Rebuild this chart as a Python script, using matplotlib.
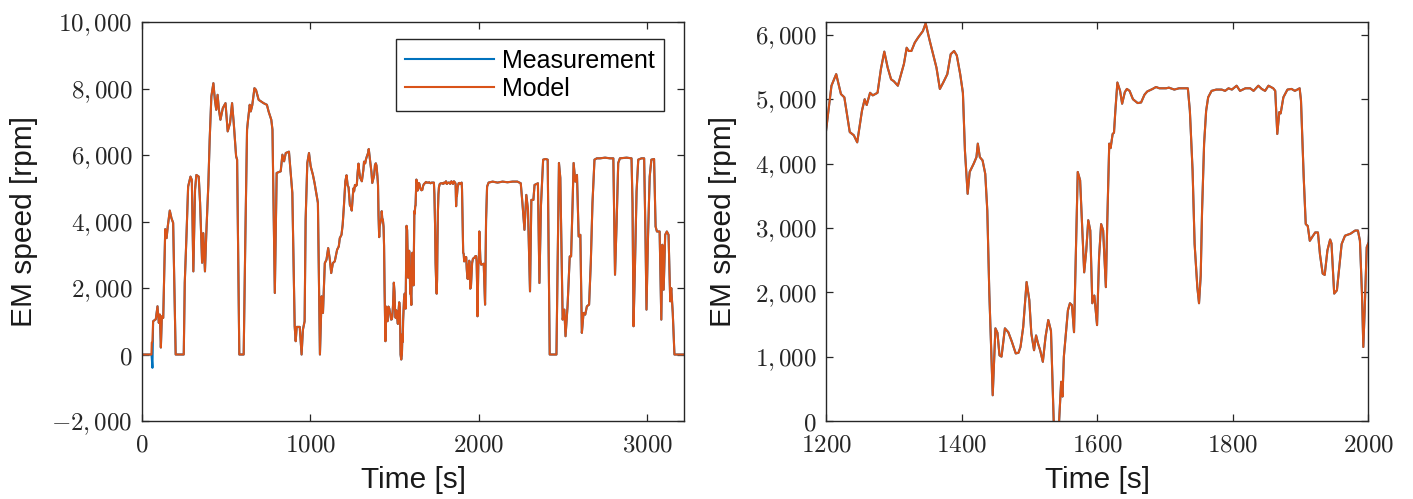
import matplotlib
matplotlib.use("Agg")
import matplotlib.pyplot as plt
from matplotlib.ticker import FixedLocator, FixedFormatter

# ---------------- data ----------------
time_s = [
    0, 56, 58, 62, 66, 82, 92, 100, 106, 112, 118, 126, 138, 146, 153, 165, 175, 185, 200, 248,
    254, 264, 274, 288, 296, 305, 315, 323, 337, 345, 357, 364, 374, 382, 394, 402, 412, 424, 433, 441,
    449, 457, 466, 480, 496, 509, 523, 535, 545, 559, 565, 578, 604, 614, 624, 630, 640, 646, 655, 668,
    677, 693, 722, 742, 752, 768, 775, 789, 800, 824, 834, 844, 854, 873, 893, 907, 913, 919, 937, 948,
    956, 966, 972, 982, 992, 1002, 1015, 1025, 1035, 1045, 1057, 1067, 1075, 1086, 1096, 1106, 1116, 1124, 1134, 1145,
    1159, 1169, 1175, 1185, 1192,
    1200, 1208, 1215, 1222, 1227, 1235, 1241, 1246, 1253, 1257, 1260, 1265, 1269, 1276, 1281, 1286, 1291, 1296, 1300, 1306,
    1310, 1315, 1319, 1322, 1326, 1331, 1336, 1343, 1347, 1353, 1358, 1363, 1368, 1373, 1379, 1384, 1389, 1393, 1398, 1402,
    1405, 1409, 1412, 1418, 1422, 1424, 1427, 1431, 1435, 1438, 1441, 1444, 1446, 1450, 1453, 1456, 1459, 1464, 1469, 1474,
    1480, 1484, 1487, 1491, 1496, 1500, 1503, 1507, 1510, 1513, 1516, 1520, 1524, 1528, 1532, 1536, 1540, 1544, 1547, 1549,
    1551, 1557, 1560, 1563, 1566, 1569, 1571.5, 1575, 1578, 1581, 1584, 1587, 1590, 1593, 1596, 1600, 1603, 1606, 1609, 1613,
    1615, 1618, 1620, 1623, 1625, 1627, 1630, 1634, 1637, 1641, 1644, 1648, 1653, 1660, 1665, 1670, 1674, 1682, 1687, 1692,
    1702, 1706, 1714, 1721, 1734, 1737, 1741, 1744, 1748, 1750.5, 1753, 1755, 1758, 1761, 1764, 1769, 1776, 1784, 1789, 1794,
    1799, 1806, 1811, 1819, 1826, 1831, 1838, 1843, 1848, 1853, 1860, 1863, 1866, 1869, 1871, 1875, 1881, 1887, 1892, 1899,
    1901, 1905, 1908, 1911, 1914, 1917, 1922, 1926, 1929, 1933, 1936, 1940, 1944, 1946, 1950, 1954, 1958, 1961, 1966, 1974,
    1981, 1985, 1988, 1991, 1993, 1995, 1998, 2001, 2004,
    2010, 2015, 2030, 2038, 2044, 2050, 2059, 2083, 2112, 2142, 2171, 2201, 2230, 2250, 2260, 2272, 2283, 2293, 2305, 2313,
    2325, 2332, 2352, 2361, 2370, 2383, 2397, 2410, 2422, 2462, 2470, 2477, 2485, 2499, 2509, 2516, 2528, 2541, 2549, 2558,
    2564, 2574, 2584, 2594, 2604, 2613, 2623, 2633, 2643, 2656, 2666, 2676, 2688, 2702, 2721, 2751, 2780, 2800, 2804, 2810,
    2820, 2829, 2839, 2879, 2908, 2914, 2920, 2928, 2938, 2948, 2967, 2983, 2991, 2997, 3006, 3016, 3026, 3042, 3051, 3059,
    3075, 3085, 3091, 3099, 3108, 3118, 3128, 3138, 3144, 3153, 3163, 3220,
]

measured_rpm = [
    0, 0, -100, -400, 1000, 1060, 1450, 950, 1200, 210, 1150, 1100, 3770, 3500, 3850, 4330, 4100, 3960, 0, 0,
    2160, 3550, 5050, 5350, 5250, 2500, 4950, 5400, 5350, 4560, 2760, 3650, 2500, 3650, 5100, 6460, 7760, 8160, 7660, 7360,
    7810, 7360, 7060, 7410, 7560, 6710, 6960, 7560, 6960, 5960, 5860, 0, 0, 3550, 6760, 7060, 7510, 7310, 7500, 8010,
    7960, 7660, 7560, 7510, 7310, 7060, 6760, 1850, 5460, 5510, 6010, 5810, 6060, 6100, 4860, 850, 400, 830, 830, 0,
    750, 1000, 4050, 5760, 6060, 5660, 5410, 5160, 4860, 4560, 0, 1750, 1250, 2750, 2850, 3200, 2850, 2450, 2750, 2800,
    3150, 3250, 3500, 3600, 3900,
    4510, 5210, 5390, 5080, 5030, 4490, 4440, 4330, 4820, 5000, 4910, 5100, 5060, 5100, 5470, 5740, 5490, 5310, 5280, 5210,
    5360, 5550, 5800, 5750, 5750, 5880, 5960, 6060, 6180, 5910, 5700, 5490, 5160, 5260, 5390, 5700, 5750, 5680, 5390, 5100,
    4200, 3530, 3870, 4000, 4100, 4310, 4100, 4050, 3840, 3270, 1980, 1000, 400, 1440, 1370, 1020, 1000, 1440, 1380, 1240,
    1050, 1060, 1150, 1460, 2160, 1880, 1360, 1100, 1330, 1200, 1100, 920, 1310, 1570, 1400, 0, -150, 0, 610, 380,
    1000, 1720, 1830, 1800, 1380, 2750, 3870, 3740, 3010, 2310, 2640, 3120, 2960, 1830, 1950, 1490, 2550, 3060, 2960, 2080,
    3060, 4310, 4240, 4460, 4480, 4820, 5260, 5130, 4930, 5110, 5160, 5130, 5000, 4940, 4950, 5070, 5120, 5160, 5190, 5170,
    5170, 5180, 5150, 5170, 5170, 4820, 3890, 2750, 2080, 1830, 2260, 3270, 4310, 4820, 5030, 5130, 5150, 5150, 5130, 5170,
    5150, 5210, 5130, 5170, 5170, 5130, 5210, 5160, 5130, 5210, 5170, 5130, 4460, 4800, 4780, 5030, 5150, 5160, 5130, 5170,
    4980, 3790, 3060, 3030, 2800, 2850, 2930, 2930, 2590, 2290, 2270, 2650, 2820, 2760, 1980, 2030, 2450, 2750, 2880, 2910,
    2960, 2960, 2800, 1980, 1150, 1720, 2700, 2780, 3700,
    2850, 2700, 2730, 1500, 4050, 5050, 5170, 5200, 5170, 5200, 5180, 5200, 5200, 5150, 4550, 3750, 4800, 4350, 1900, 4650,
    4650, 5100, 5150, 2150, 4480, 5860, 5880, 5860, 0, 0, 3050, 5760, 5310, 1050, 1350, 550, 1450, 2950, 2950, 4550,
    5760, 5200, 5400, 3550, 3600, 650, 1250, 1200, 1450, 1500, 2750, 4550, 5860, 5900, 5900, 5920, 5900, 5900, 4550, 2400,
    4050, 5760, 5900, 5920, 5900, 4550, 850, 2550, 4900, 5860, 5900, 5900, 3550, 1350, 3550, 5350, 5860, 5880, 3850, 3700,
    3700, 1050, 3300, 1950, 3600, 3700, 3600, 1600, 2000, 1250, 0, 0,
]

# The model follows the measurement; it differs visibly only at the start
model_start_time_s = [0, 56, 58, 62, 66]
model_start_rpm = [0, 0, 360, 380, 1000]

legend_labels = ["Measurement", "Model"]
xlabel_text = "Time [s]"
ylabel_text = "EM speed [rpm]"

left_xticks = [0, 1000, 2000, 3000]
left_yticks = [-2000, 0, 2000, 4000, 6000, 8000, 10000]
right_xticks = [1200, 1400, 1600, 1800, 2000]
right_yticks = [0, 1000, 2000, 3000, 4000, 5000, 6000]

# build the model series from the measurement values and its own start values
model_rpm = list(measured_rpm)
for tt, vv in zip(model_start_time_s, model_start_rpm):
    model_rpm[time_s.index(tt)] = vv

# ---------------- styling ----------------
plt.rcParams["mathtext.fontset"] = "cm"
plt.rcParams["font.family"] = ["Liberation Sans", "DejaVu Sans"]

BLUE = "#0072BD"
ORANGE = "#D95319"
SPINE = "#262626"

fig = plt.figure(figsize=(14.13, 4.99), dpi=100)
ax1 = fig.add_axes([0.1005, 0.1563, 0.3836, 0.7996])
ax2 = fig.add_axes([0.5846, 0.1563, 0.3836, 0.7996])


def fmt_num(v, comma):
    if comma:
        s = f"{abs(v):,}".replace(",", r"{,}\,")
    else:
        s = f"{abs(v)}"
    if v < 0:
        s = "-" + s
    return r"$" + s + r"$"


def style(ax, xticks, yticks, xlim, ylim, ylabel_x):
    ax.set_xlim(*xlim)
    ax.set_ylim(*ylim)
    ax.xaxis.set_major_locator(FixedLocator(xticks))
    ax.xaxis.set_major_formatter(FixedFormatter([fmt_num(v, False) for v in xticks]))
    ax.yaxis.set_major_locator(FixedLocator(yticks))
    ax.yaxis.set_major_formatter(FixedFormatter([fmt_num(v, True) for v in yticks]))
    ax.tick_params(direction="in", length=5, width=0.9, colors=SPINE,
                   labelsize=18, top=True, right=True)
    ax.tick_params(axis="x", pad=8)
    ax.tick_params(axis="y", pad=7)
    for sp in ax.spines.values():
        sp.set_color(SPINE)
        sp.set_linewidth(1.0)
    ax.set_xlabel(xlabel_text, fontsize=21.5, color="#1a1a1a")
    ax.set_ylabel(ylabel_text, fontsize=21.5, color="#1a1a1a")
    ax.xaxis.set_label_coords(0.5, -0.112)
    ax.yaxis.set_label_coords(ylabel_x, 0.5)


for ax in (ax1, ax2):
    ax.plot(time_s, measured_rpm, color=BLUE, lw=1.5, label=legend_labels[0])
    ax.plot(time_s, model_rpm, color=ORANGE, lw=1.5, label=legend_labels[1])

style(ax1, left_xticks, left_yticks, (0, 3220), (-2000, 10000), -0.192)
style(ax2, right_xticks, right_yticks, (1200, 2000), (0, 6200), -0.164)

leg = ax1.legend(loc="upper right", bbox_to_anchor=(0.963, 0.957), borderaxespad=0,
                 fontsize=18, handlelength=3.55, handletextpad=0.3, labelspacing=0.18,
                 borderpad=0.38, fancybox=False, framealpha=1, edgecolor=SPINE)
leg.get_frame().set_linewidth(1.0)

fig.savefig("out.png", dpi=100)
